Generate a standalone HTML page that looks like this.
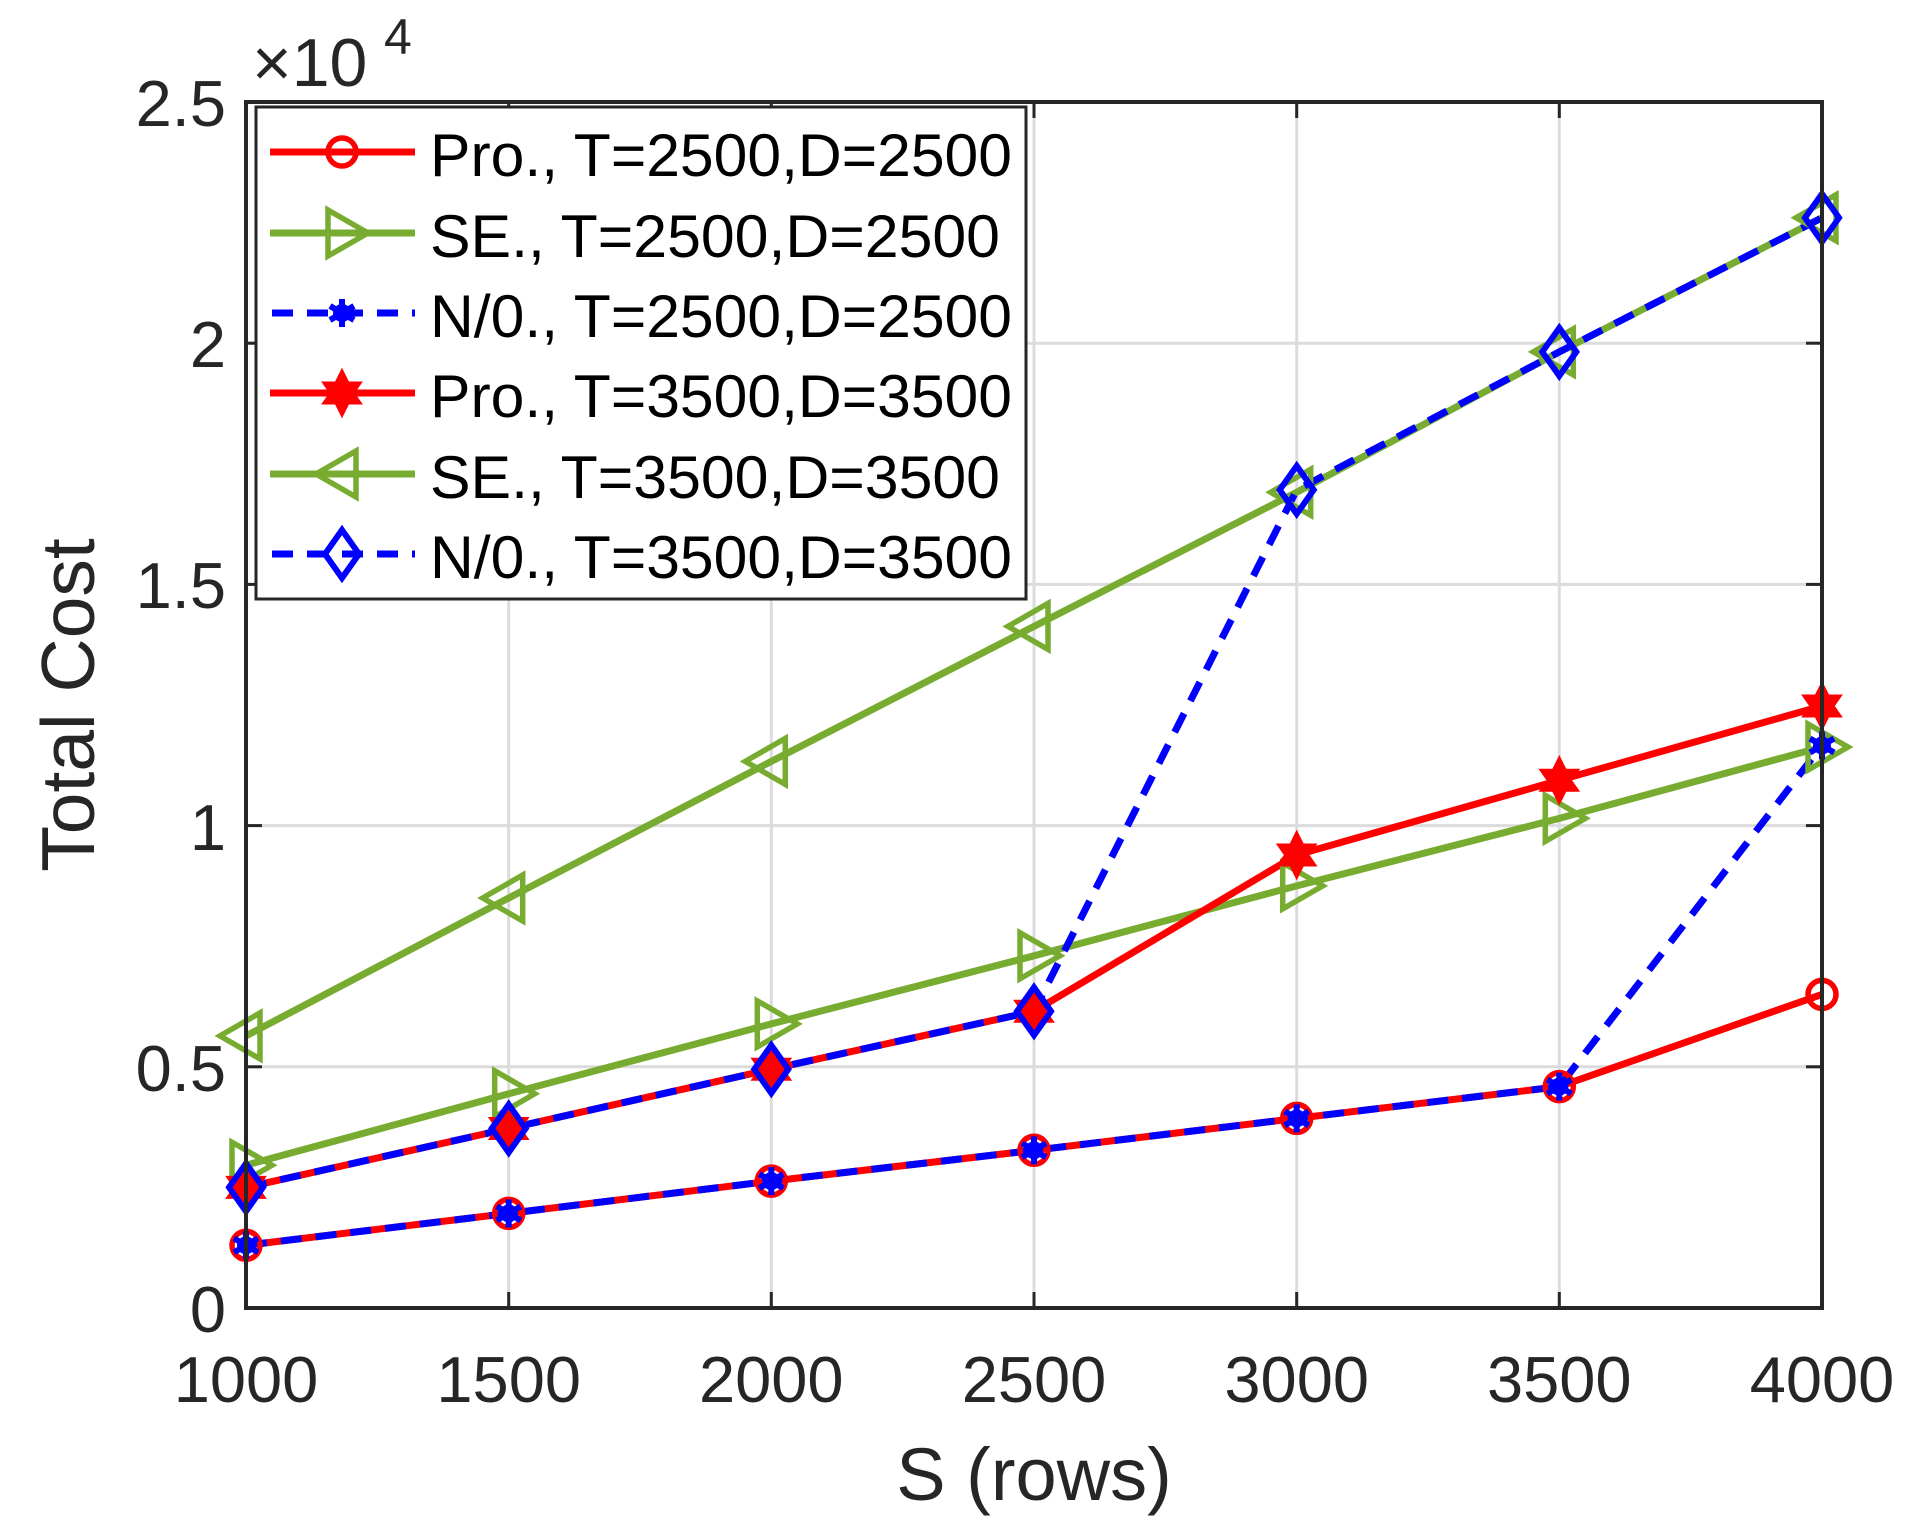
<!DOCTYPE html>
<html><head><meta charset="utf-8"><style>body{margin:0;background:#fff}svg{display:block}text{font-family:"Liberation Sans",sans-serif;fill:#262626}</style></head><body>
<svg width="1922" height="1534" viewBox="0 0 1922 1534" xmlns="http://www.w3.org/2000/svg">
<defs>
<g id="circ"><circle r="14" fill="none" stroke="#ff0000" stroke-width="5.5"/></g>
<g id="rtri"><polygon points="-14,-23 26,0 -14,23" fill="none" stroke="#77ac30" stroke-width="5.5"/></g>
<g id="ltri"><polygon points="14,-23 -26,0 14,23" fill="none" stroke="#77ac30" stroke-width="5.5"/></g>
<g id="ast" stroke="#0000ff" stroke-width="6"><line x1="0" y1="-14" x2="0" y2="14"/><line x1="-12" y1="-7" x2="12" y2="7"/><line x1="-12" y1="7" x2="12" y2="-7"/><circle r="9" fill="#0000ff" stroke="none"/></g>
<g id="star"><polygon points="0,-22 6,-10 18,-10 11,0 18,10 6,10 0,22 -6,10 -18,10 -11,0 -18,-10 -6,-10" fill="#ff0000" stroke="#ff0000" stroke-width="3"/></g>
<g id="diam"><polygon points="0,-24 17,0 0,24 -17,0" fill="none" stroke="#0000ff" stroke-width="6"/></g>
</defs>
<rect x="246" y="102" width="1576" height="1206" fill="#fff"/>
<g stroke="#dcdcdc" stroke-width="3">
<line x1="508.7" y1="102" x2="508.7" y2="1308"/><line x1="771.3" y1="102" x2="771.3" y2="1308"/><line x1="1034" y1="102" x2="1034" y2="1308"/><line x1="1296.7" y1="102" x2="1296.7" y2="1308"/><line x1="1559.3" y1="102" x2="1559.3" y2="1308"/>
<line x1="246" y1="1066.8" x2="1822" y2="1066.8"/><line x1="246" y1="825.6" x2="1822" y2="825.6"/><line x1="246" y1="584.4" x2="1822" y2="584.4"/><line x1="246" y1="343.2" x2="1822" y2="343.2"/>
</g>
<g fill="none" stroke-width="7" stroke-linejoin="round">
<polyline stroke="#ff0000" points="246,1245.3 508.7,1213.4 771.3,1181.1 1034,1150.3 1296.7,1118.4 1559.3,1086.6 1822,994.4"/>
<polyline stroke="#77ac30" points="246,1165.2 508.7,1093.8 771.3,1023.9 1034,955.8 1296.7,885.9 1559.3,818.4 1822,747"/>
<polyline stroke="#0000ff" stroke-dasharray="21,14" points="246,1245.3 508.7,1213.4 771.3,1181.1 1034,1150.3 1296.7,1118.4 1559.3,1086.6 1822,745.5"/>
<polyline stroke="#ff0000" points="246,1187.4 508.7,1128.5 771.3,1069.2 1034,1011.3 1296.7,855 1559.3,780.3 1822,706"/>
<polyline stroke="#77ac30" points="246,1035.9 508.7,898 771.3,761.4 1034,626.4 1296.7,492.3 1559.3,351.9 1822,217.8"/>
<polyline stroke="#0000ff" stroke-dasharray="21,14" points="246,1187.4 508.7,1128.5 771.3,1069.2 1034,1011.3 1296.7,489.9 1559.3,351.9 1822,217.8"/>
</g>
<g>
<use href="#circ" x="246" y="1245.3"/><use href="#circ" x="508.7" y="1213.4"/><use href="#circ" x="771.3" y="1181.1"/><use href="#circ" x="1034" y="1150.3"/><use href="#circ" x="1296.7" y="1118.4"/><use href="#circ" x="1559.3" y="1086.6"/><use href="#circ" x="1822" y="994.4"/>
<use href="#rtri" x="246" y="1165.2"/><use href="#rtri" x="508.7" y="1093.8"/><use href="#rtri" x="771.3" y="1023.9"/><use href="#rtri" x="1034" y="955.8"/><use href="#rtri" x="1296.7" y="885.9"/><use href="#rtri" x="1559.3" y="818.4"/><use href="#rtri" x="1822" y="747"/>
<use href="#ast" x="246" y="1245.3"/><use href="#ast" x="508.7" y="1213.4"/><use href="#ast" x="771.3" y="1181.1"/><use href="#ast" x="1034" y="1150.3"/><use href="#ast" x="1296.7" y="1118.4"/><use href="#ast" x="1559.3" y="1086.6"/><use href="#ast" x="1822" y="745.5"/>
<use href="#star" x="246" y="1187.4"/><use href="#star" x="508.7" y="1128.5"/><use href="#star" x="771.3" y="1069.2"/><use href="#star" x="1034" y="1011.3"/><use href="#star" x="1296.7" y="855"/><use href="#star" x="1559.3" y="780.3"/><use href="#star" x="1822" y="706"/>
<use href="#ltri" x="246" y="1035.9"/><use href="#ltri" x="508.7" y="898"/><use href="#ltri" x="771.3" y="761.4"/><use href="#ltri" x="1034" y="626.4"/><use href="#ltri" x="1296.7" y="492.3"/><use href="#ltri" x="1559.3" y="351.9"/><use href="#ltri" x="1822" y="217.8"/>
<use href="#diam" x="246" y="1187.4"/><use href="#diam" x="508.7" y="1128.5"/><use href="#diam" x="771.3" y="1069.2"/><use href="#diam" x="1034" y="1011.3"/><use href="#diam" x="1296.7" y="489.9"/><use href="#diam" x="1559.3" y="351.9"/><use href="#diam" x="1822" y="217.8"/>
</g>
<g stroke="#262626" stroke-width="3">
<line x1="508.7" y1="1308" x2="508.7" y2="1292"/><line x1="771.3" y1="1308" x2="771.3" y2="1292"/><line x1="1034" y1="1308" x2="1034" y2="1292"/><line x1="1296.7" y1="1308" x2="1296.7" y2="1292"/><line x1="1559.3" y1="1308" x2="1559.3" y2="1292"/>
<line x1="508.7" y1="102" x2="508.7" y2="118"/><line x1="771.3" y1="102" x2="771.3" y2="118"/><line x1="1034" y1="102" x2="1034" y2="118"/><line x1="1296.7" y1="102" x2="1296.7" y2="118"/><line x1="1559.3" y1="102" x2="1559.3" y2="118"/>
<line x1="246" y1="1066.8" x2="262" y2="1066.8"/><line x1="246" y1="825.6" x2="262" y2="825.6"/><line x1="246" y1="584.4" x2="262" y2="584.4"/><line x1="246" y1="343.2" x2="262" y2="343.2"/>
<line x1="1822" y1="1066.8" x2="1806" y2="1066.8"/><line x1="1822" y1="825.6" x2="1806" y2="825.6"/><line x1="1822" y1="584.4" x2="1806" y2="584.4"/><line x1="1822" y1="343.2" x2="1806" y2="343.2"/>
</g>
<rect x="246" y="102" width="1576" height="1206" fill="none" stroke="#262626" stroke-width="4"/>
<g font-size="65" text-anchor="middle">
<text x="246" y="1402">1000</text><text x="508.7" y="1402">1500</text><text x="771.3" y="1402">2000</text><text x="1034" y="1402">2500</text><text x="1296.7" y="1402">3000</text><text x="1559.3" y="1402">3500</text><text x="1822" y="1402">4000</text>
</g>
<g font-size="65" text-anchor="end">
<text x="226" y="1332">0</text><text x="226" y="1091">0.5</text><text x="226" y="850">1</text><text x="226" y="608">1.5</text><text x="226" y="367">2</text><text x="226" y="126">2.5</text>
</g>
<text x="252" y="86" font-size="68">×10</text><text x="384" y="54" font-size="50">4</text>
<text x="1034" y="1500" font-size="74" text-anchor="middle">S (rows)</text>
<text transform="translate(94,705) rotate(-90)" font-size="75" text-anchor="middle">Total Cost</text>
<rect x="256" y="107" width="770" height="492" fill="#fff" stroke="#262626" stroke-width="3"/>
<g stroke-width="7" fill="none">
<line x1="270" y1="152" x2="415" y2="152" stroke="#ff0000"/>
<line x1="270" y1="233" x2="415" y2="233" stroke="#77ac30"/>
<line x1="270" y1="313" x2="415" y2="313" stroke="#0000ff" stroke-dasharray="21,14" stroke-dashoffset="-2"/>
<line x1="270" y1="393" x2="415" y2="393" stroke="#ff0000"/>
<line x1="270" y1="474" x2="415" y2="474" stroke="#77ac30"/>
<line x1="270" y1="554" x2="415" y2="554" stroke="#0000ff" stroke-dasharray="21,14" stroke-dashoffset="-2"/>
</g>
<use href="#circ" x="342" y="152"/><use href="#rtri" x="342" y="233"/><use href="#ast" x="342" y="313"/><use href="#star" x="342" y="393"/><use href="#ltri" x="342" y="474"/><use href="#diam" x="342" y="554"/>
<g font-size="60">
<text x="430" y="176" textLength="582" lengthAdjust="spacingAndGlyphs" style="fill:#000">Pro., T=2500,D=2500</text>
<text x="430" y="257" textLength="570" lengthAdjust="spacingAndGlyphs" style="fill:#000">SE., T=2500,D=2500</text>
<text x="430" y="337" textLength="582" lengthAdjust="spacingAndGlyphs" style="fill:#000">N/0., T=2500,D=2500</text>
<text x="430" y="417" textLength="582" lengthAdjust="spacingAndGlyphs" style="fill:#000">Pro., T=3500,D=3500</text>
<text x="430" y="498" textLength="570" lengthAdjust="spacingAndGlyphs" style="fill:#000">SE., T=3500,D=3500</text>
<text x="430" y="578" textLength="582" lengthAdjust="spacingAndGlyphs" style="fill:#000">N/0., T=3500,D=3500</text>
</g>
</svg>
</body></html>
